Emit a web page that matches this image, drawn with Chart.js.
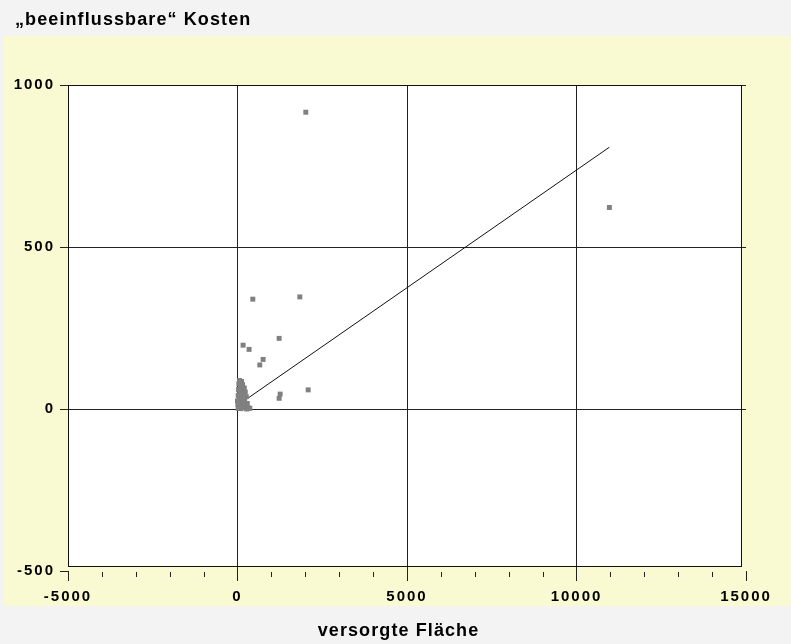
<!DOCTYPE html>
<html>
<head>
<meta charset="utf-8">
<script src="https://cdn.jsdelivr.net/npm/chart.js@4/dist/chart.umd.min.js"></script>
<style>
  html, body { margin:0; padding:0; background:#f3f3f3; }
  #wrap { position:relative; width:791px; height:644px; overflow:hidden; }
  #panel { position:absolute; left:4px; top:36px; width:787px; height:570px; background:#fafad2; }
  #c { position:absolute; left:0; top:0; }
  .t { position:absolute; font-family:"Liberation Sans", Arial, sans-serif; font-weight:bold; font-size:18px; line-height:18px; letter-spacing:1.1px; color:#000; white-space:nowrap; }
  #title { left:15px; top:10px; }
  #xtitle { left:398.5px; top:621px; transform:translateX(-50%); }
</style>
</head>
<body>
<div id="wrap">
  <div id="panel"></div>
  <canvas id="c" width="791" height="644"></canvas>
  <div class="t" id="title">„beeinflussbare“ Kosten</div>
  <div class="t" id="xtitle">versorgte Fläche</div>
</div>
<script>
// ---- data ----
const pointX = [2015, 10970, 452, 1838, 1228, 165, 342, 756, 658, 2085, 1258, 1228, 363,
  60, 120, 40, 150, 90, 200, 30, 130, 230, 70, 180, 20, 260, 110, 50, 210, 160, 80, 290, 10, 140, 240, 70, 190, 330, 20, 100, 270, 150, 0];
const pointY = [916, 622, 339, 346, 218, 197, 184, 153, 136, 59, 46, 33, 2,
  88, 85, 78, 75, 70, 65, 60, 58, 52, 50, 45, 42, 38, 35, 30, 28, 24, 20, 17, 14, 11, 8, 6, 4, 3, 2, 1, 0, 12, 25];
const trendX = [89, 10970];
const trendY = [17.6, 808];
const xTicks = [-5000, 0, 5000, 10000, 15000];
const yTicks = [-500, 0, 500, 1000];
const xMinorTicks = [-4000, -3000, -2000, -1000, 1000, 2000, 3000, 4000, 6000, 7000, 8000, 9000, 11000, 12000, 13000, 14000];

const scatterData = pointX.map((x, i) => ({ x: x, y: pointY[i] }));
const trendData = trendX.map((x, i) => ({ x: x, y: trendY[i] }));

const boxPlugin = {
  id: 'box',
  beforeDraw(chart) {
    const ctx = chart.ctx, a = chart.chartArea;
    ctx.letterSpacing = '2px';
    ctx.save();
    ctx.fillStyle = '#ffffff';
    ctx.fillRect(a.left, a.top, a.right - 5 - a.left, a.bottom - 5 - a.top);
    ctx.restore();
  },
  beforeDatasetsDraw(chart) {
    const ctx = chart.ctx, a = chart.chartArea;
    ctx.save();
    ctx.strokeStyle = '#111';
    ctx.lineWidth = 1;
    ctx.strokeRect(Math.round(a.left) + 0.5, Math.round(a.top) + 0.5,
      Math.round(a.right - 5 - a.left), Math.round(a.bottom - 5 - a.top));
    // minor ticks on x axis
    const xs = chart.scales.x;
    ctx.strokeStyle = '#222';
    ctx.beginPath();
    xMinorTicks.forEach(v => {
      const px = Math.round(xs.getPixelForValue(v)) + 0.5;
      ctx.moveTo(px, a.bottom + 1);
      ctx.lineTo(px, a.bottom + 6);
    });
    ctx.stroke();
    ctx.restore();
  }
};

new Chart(document.getElementById('c'), {
  type: 'scatter',
  data: {
    datasets: [
      {
        data: scatterData,
        pointStyle: 'rect',
        pointRadius: 3.5,
        pointHoverRadius: 3.5,
        backgroundColor: '#808080',
        borderWidth: 0
      },
      {
        type: 'line',
        data: trendData,
        showLine: true,
        borderColor: '#111',
        borderWidth: 1,
        pointRadius: 0,
        fill: false
      }
    ]
  },
  options: {
    responsive: false,
    devicePixelRatio: 1,
    animation: false,
    layout: { padding: { top: 85, right: 45, left: 0, bottom: 0 } },
    plugins: { legend: { display: false }, tooltip: { enabled: false }, title: { display: false } },
    scales: {
      x: {
        type: 'linear',
        min: -5000, max: 15000,
        afterBuildTicks: s => { s.ticks = xTicks.map(v => ({ value: v })); },
        afterFit: s => { s.height = 73; },
        border: { display: false },
        grid: {
          color: c => (c.tick && [0, 5000, 10000].includes(c.tick.value)) ? '#222' : 'rgba(0,0,0,0)',
          tickColor: '#222',
          tickLength: 10,
          lineWidth: 1
        },
        ticks: {
          color: '#000',
          padding: 7,
          maxRotation: 0,
          autoSkip: false,
          callback: v => String(v),
          font: { family: '"Liberation Sans", Arial, sans-serif', size: 15, weight: 'bold' }
        }
      },
      y: {
        type: 'linear',
        min: -500, max: 1000,
        afterBuildTicks: s => { s.ticks = yTicks.map(v => ({ value: v })); },
        afterFit: s => { s.width = 68; },
        border: { display: false },
        grid: {
          color: c => (c.tick && [0, 500, 1000].includes(c.tick.value)) ? '#222' : 'rgba(0,0,0,0)',
          tickColor: '#222',
          tickLength: 8,
          lineWidth: 1
        },
        ticks: {
          color: '#000',
          padding: 5,
          autoSkip: false,
          callback: v => String(v),
          font: { family: '"Liberation Sans", Arial, sans-serif', size: 15, weight: 'bold' }
        }
      }
    }
  },
  plugins: [boxPlugin]
});
</script>
</body>
</html>
